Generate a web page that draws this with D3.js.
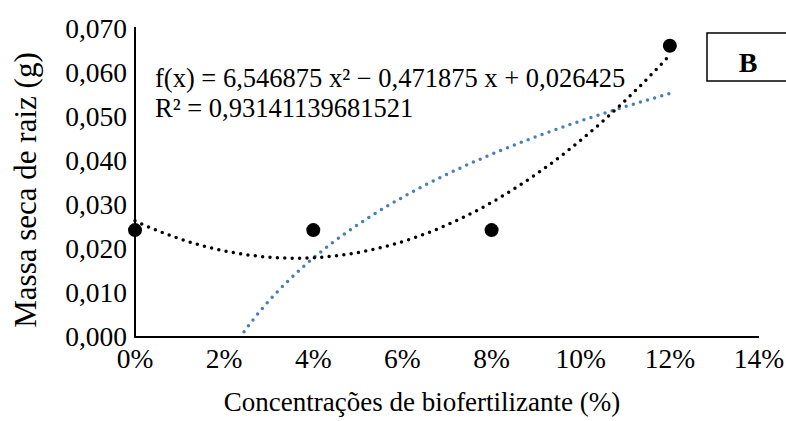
<!DOCTYPE html>
<html>
<head>
<meta charset="utf-8">
<script src="https://cdn.jsdelivr.net/npm/d3@7"></script>
<style>
  body { margin: 0; background: #fff; }
  svg { display: block; font-family: "Liberation Serif", "Times New Roman", serif; }
</style>
</head>
<body>
<div id="chart"></div>
<script>
// dados: concentração (fração) e massa seca de raiz (g)
const concentrations = [0, 0.04, 0.08, 0.12];
const rootMass = [0.0243, 0.0243, 0.0243, 0.0662];
const xTicks = [0, 0.02, 0.04, 0.06, 0.08, 0.10, 0.12, 0.14];
const yTicks = [0, 0.01, 0.02, 0.03, 0.04, 0.05, 0.06, 0.07];
const equationLines = [
    'f(x) = 6,546875 x² − 0,471875 x + 0,026425',
    'R² = 0,93141139681521'
];
const panelLabel = 'B';

const width = 786, height = 421;
const margin = { top: 29, right: 27, bottom: 84, left: 135 };

const ptBR = d3.formatLocale({ decimal: ',', thousands: '.', grouping: [3], currency: ['R$', ''] });
const fmtY = ptBR.format('.3f');
const fmtX = ptBR.format('.0%');

const svg = d3.select('#chart').append('svg')
    .attr('width', width)
    .attr('height', height);

const x = d3.scaleLinear().domain([0, 0.14]).range([margin.left, width - margin.right]);
const y = d3.scaleLinear().domain([0, 0.07]).range([height - margin.bottom, margin.top]);

svg.append('defs').append('clipPath').attr('id', 'plot')
    .append('rect')
    .attr('x', margin.left).attr('y', margin.top - 10)
    .attr('width', width - margin.left - margin.right)
    .attr('height', height - margin.top - margin.bottom + 10);

// regressão polinomial de 2º grau (mínimos quadrados)
function quadFit(xs, ys) {
    const n = xs.length;
    const s = k => d3.sum(xs, v => Math.pow(v, k));
    const t = k => d3.sum(xs, (v, i) => Math.pow(v, k) * ys[i]);
    const A = [[n, s(1), s(2)], [s(1), s(2), s(3)], [s(2), s(3), s(4)]];
    const b = [t(0), t(1), t(2)];
    // eliminação de Gauss
    for (let i = 0; i < 3; i++) {
        for (let j = i + 1; j < 3; j++) {
            const f = A[j][i] / A[i][i];
            for (let k = i; k < 3; k++) A[j][k] -= f * A[i][k];
            b[j] -= f * b[i];
        }
    }
    const c = [0, 0, 0];
    for (let i = 2; i >= 0; i--) {
        let acc = b[i];
        for (let k = i + 1; k < 3; k++) acc -= A[i][k] * c[k];
        c[i] = acc / A[i][i];
    }
    return v => c[0] + c[1] * v + c[2] * v * v;
}

// regressão logarítmica (somente x > 0, como no Excel)
function logFit(xs, ys) {
    const pts = xs.map((v, i) => [Math.log(v), ys[i]]).filter((p, i) => xs[i] > 0);
    const mx = d3.mean(pts, p => p[0]), my = d3.mean(pts, p => p[1]);
    const a = d3.sum(pts, p => (p[0] - mx) * (p[1] - my)) / d3.sum(pts, p => (p[0] - mx) ** 2);
    const b = my - a * mx;
    return v => a * Math.log(v) + b;
}

const poly = quadFit(concentrations, rootMass);
const logf = logFit(concentrations, rootMass);
const xMax = d3.max(concentrations);

const line = d3.line().x(d => x(d[0])).y(d => y(d[1]));

// linha de tendência logarítmica (azul)
const logStart = 0.02;
svg.append('path')
    .datum(d3.range(logStart, xMax + 1e-9, 0.0005).map(v => [v, logf(v)]).filter(d => d[1] >= -0.0005))
    .attr('d', line)
    .attr('clip-path', 'url(#plot)')
    .attr('fill', 'none')
    .attr('stroke', '#4a7ebb')
    .attr('stroke-width', 3.5)
    .attr('stroke-linecap', 'round')
    .attr('stroke-dasharray', '0 7.4');

// linha de tendência polinomial (preta)
svg.append('path')
    .datum(d3.range(0, xMax + 1e-9, 0.0005).map(v => [v, poly(v)]))
    .attr('d', line)
    .attr('fill', 'none')
    .attr('stroke', '#000')
    .attr('stroke-width', 3.5)
    .attr('stroke-linecap', 'round')
    .attr('stroke-dasharray', '0 7.4');

// eixos
svg.append('line')
    .attr('x1', x(0)).attr('x2', x(0))
    .attr('y1', y(0.07) - 2).attr('y2', y(0))
    .attr('stroke', '#000').attr('stroke-width', 2);
svg.append('line')
    .attr('x1', x(0) - 1).attr('x2', x(0.14))
    .attr('y1', y(0)).attr('y2', y(0))
    .attr('stroke', '#000').attr('stroke-width', 2);

svg.append('g').selectAll('text')
    .data(yTicks)
    .join('text')
    .attr('x', margin.left - 8)
    .attr('y', d => y(d))
    .attr('dy', '0.33em')
    .attr('text-anchor', 'end')
    .attr('font-size', 27.5)
    .text(d => fmtY(d));

svg.append('g').selectAll('text')
    .data(xTicks)
    .join('text')
    .attr('x', d => x(d))
    .attr('y', y(0) + 31)
    .attr('text-anchor', 'middle')
    .attr('font-size', 27.5)
    .text(d => fmtX(d));

// pontos
svg.append('g').selectAll('circle')
    .data(concentrations)
    .join('circle')
    .attr('cx', d => x(d))
    .attr('cy', (d, i) => y(rootMass[i]))
    .attr('r', 7)
    .attr('fill', '#000');

// títulos dos eixos
svg.append('text')
    .attr('transform', `translate(36,190) rotate(-90)`)
    .attr('text-anchor', 'middle')
    .attr('font-size', 31)
    .text('Massa seca de raiz (g)');

svg.append('text')
    .attr('x', 422)
    .attr('y', 411)
    .attr('text-anchor', 'middle')
    .attr('font-size', 27)
    .text('Concentrações de biofertilizante (%)');

// equação da tendência
svg.append('g').selectAll('text')
    .data(equationLines)
    .join('text')
    .attr('x', 155)
    .attr('y', (d, i) => 87 + i * 30)
    .attr('font-size', 26.5)
    .text(d => d);

// rótulo do painel
svg.append('rect')
    .attr('x', 707).attr('y', 33)
    .attr('width', 90).attr('height', 48)
    .attr('fill', '#fff')
    .attr('stroke', '#000')
    .attr('stroke-width', 1.5);
svg.append('text')
    .attr('x', 748)
    .attr('y', 72)
    .attr('text-anchor', 'middle')
    .attr('font-size', 28)
    .attr('font-weight', 'bold')
    .text(panelLabel);
</script>
</body>
</html>
